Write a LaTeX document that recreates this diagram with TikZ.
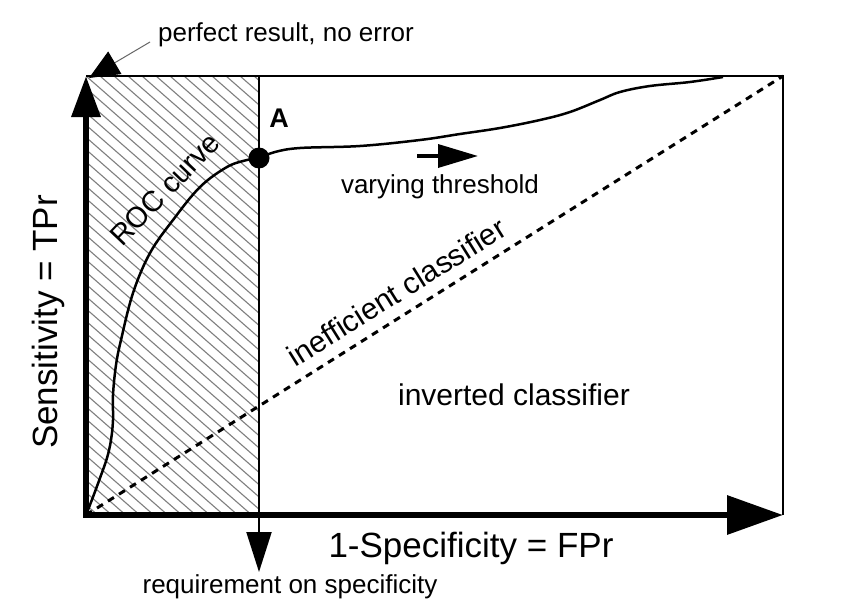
\documentclass[tikz,border=0pt]{standalone}
\usepackage{fontspec}
\setmainfont{Liberation Sans}
\usetikzlibrary{arrows.meta}

\begin{document}
\begin{tikzpicture}[x=1pt,y=-1pt,every node/.style={inner sep=0pt,outer sep=0pt},
    txt/.style={font=\fontsize{26}{30}\selectfont,anchor=base},
    mid/.style={font=\fontsize{30}{34}\selectfont,anchor=base},
    big/.style={font=\fontsize{35}{40}\selectfont,anchor=base},
    axis/.style={line width=6.5pt},
    hatch/.style={black!50,line width=1.1pt}]
    \useasboundingbox[fill=white] (0,0) rectangle (850,615);
    \coordinate (O) at (86,515);
    \coordinate (P) at (86,76);
    \coordinate (TR) at (783,76);
    \coordinate (XE) at (783,515);
    \coordinate (RT) at (259,76);
    \coordinate (RB) at (259,572);
    % hatched area left of A
    \begin{scope}
        \clip (O) rectangle (RT);
        \foreach \i in {-560,-546,...,180}
            \draw[hatch] (86+\i,76) -- ++(600,525);
    \end{scope}
    \draw[line width=2.5pt] (P) -- (TR) -- (XE);
    \draw[line width=2pt,-{Triangle[length=40pt,width=25pt]}] (RT) -- (RB);
    \draw[line width=3pt,dash pattern=on 7pt off 6pt] (O) -- (TR);
    \draw[axis,{Triangle[length=41pt,width=28pt]}-{Triangle[length=56pt,width=38pt]}] (P) -- (O) -- (XE);
    % ROC curve
    \draw[line width=2.5pt] plot[smooth,tension=0.6] coordinates {(86,515) (93,497) (100,478) (107,458) (111,440) (113,420) (113,395) (116,365) (121,340) (133,293) (150,253) (173,220) (200,187) (227,167) (247,160) (259,158) (275,152) (300,148) (360,146) (420,140) (460,134) (500,128) (540,120) (570,112) (600,100) (620,92) (650,86) (690,82) (723,77)};
    \node[circle,fill=black,minimum size=21pt] (A) at (259,158) {};
    \node[font=\bfseries\fontsize{27}{30}\selectfont,anchor=base] (Alab) at (279,128) {A};
    % labels
    \node[txt] (perf) at (286,42) {perfect result, no error};
    \node[txt] (req) at (290,593) {requirement on specificity};
    \node[txt] (thr) at (440,193) {varying threshold};
    \node[mid] (inv) at (514,405) {inverted classifier};
    \node[mid,rotate=32] (ineff) at (402,301) {inefficient classifier};
    \node[big] (fpr) at (471,557) {1-Specificity = FPr};
    \node[big,rotate=90] (tpr) at (57,322) {Sensitivity = TPr};
    \node[font=\fontsize{29}{33}\selectfont,anchor=base,rotate=46] (roc) at (172,196) {ROC curve};
    % pointer arrows
    \coordinate (pf) at (150,42);
    \coordinate (pc) at (89,78);
    \draw[black!60,line width=1pt,-{Triangle[length=30pt,width=26pt,color=black]}] (pf) -- (pc);
    \coordinate (t1) at (417,156);
    \coordinate (t2) at (478,156);
    \draw[line width=3.5pt,-{Triangle[length=40pt,width=23pt]}] (t1) -- (t2);
\end{tikzpicture}
\end{document}
